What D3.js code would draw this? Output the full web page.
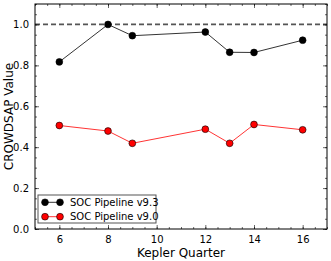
<!DOCTYPE html>
<html>
<head>
<meta charset="utf-8">
<script src="https://cdn.jsdelivr.net/npm/d3@7"></script>
<style>
  body { margin: 0; background: #fff; }
  text { font-family: "DejaVu Sans", sans-serif; }
</style>
</head>
<body>
<svg id="chart" width="331" height="261"></svg>
<script>
const quarters = [6, 8, 9, 12, 13, 14, 16]
const v93 = [0.817, 1.0, 0.945, 0.963, 0.864, 0.863, 0.923]
const v90 = [0.506, 0.479, 0.419, 0.488, 0.419, 0.511, 0.485]
const seriesNames = ['SOC Pipeline v9.3', 'SOC Pipeline v9.0']
const seriesColors = ['#000000', '#ff0000']
const xTicks = [6, 8, 10, 12, 14, 16]
const yTicks = [0.0, 0.2, 0.4, 0.6, 0.8, 1.0]

const margin = {top: 4, right: 4, bottom: 32, left: 35}
const width = 331, height = 261
const svg = d3.select('#chart')

const x = d3.scaleLinear().domain([5, 17]).range([margin.left, width - margin.right])
const y = d3.scaleLinear().domain([0, 1.1]).range([height - margin.bottom, margin.top])

const plot = svg.append('g')

// reference line at 1.0
plot.append('line')
    .attr('x1', x(5)).attr('x2', x(17))
    .attr('y1', y(1)).attr('y2', y(1))
    .attr('stroke', '#555').attr('stroke-width', 1.8)
    .attr('stroke-dasharray', '5,3')

const line = d3.line().x((d, i) => x(quarters[i])).y(d => y(d))

const series = [v93, v90]
series.forEach((vals, s) => {
  plot.append('path')
      .attr('d', line(vals))
      .attr('fill', 'none')
      .attr('stroke', seriesColors[s])
      .attr('stroke-width', 0.8)
  plot.selectAll(null).data(vals).enter().append('circle')
      .attr('cx', (d, i) => x(quarters[i]))
      .attr('cy', d => y(d))
      .attr('r', 3.4)
      .attr('fill', seriesColors[s])
      .attr('stroke', '#000').attr('stroke-width', 0.6)
})

// axes: ticks inward on all sides
const xMinor = d3.range(5, 17.01, 0.5)
const yMinor = d3.range(0, 1.101, 0.05)
const axisG = svg.append('g').attr('font-size', 10)

function addAxis(axis, transform) {
  const g = axisG.append('g').attr('transform', transform).call(axis)
  g.select('.domain').remove()
  g.selectAll('line').attr('stroke', '#000').attr('stroke-width', 0.6)
  g.selectAll('text').attr('font-family', '"DejaVu Sans", sans-serif').attr('font-size', 10).attr('fill', '#000')
  return g
}

const bottomY = height - margin.bottom
addAxis(d3.axisBottom(x).tickValues(xMinor).tickSize(-2).tickFormat(''), `translate(0,${bottomY})`)
addAxis(d3.axisTop(x).tickValues(xMinor).tickSize(-2).tickFormat(''), `translate(0,${margin.top})`)
addAxis(d3.axisBottom(x).tickValues(xTicks).tickSize(-4).tickPadding(7).tickFormat(d3.format('d')), `translate(0,${bottomY})`)
addAxis(d3.axisTop(x).tickValues(xTicks).tickSize(-4).tickFormat(''), `translate(0,${margin.top})`)

addAxis(d3.axisLeft(y).tickValues(yMinor).tickSize(-2).tickFormat(''), `translate(${margin.left},0)`)
addAxis(d3.axisRight(y).tickValues(yMinor).tickSize(-2).tickFormat(''), `translate(${width - margin.right},0)`)
addAxis(d3.axisLeft(y).tickValues(yTicks).tickSize(-4).tickPadding(6).tickFormat(d3.format('.1f')), `translate(${margin.left},0)`)
addAxis(d3.axisRight(y).tickValues(yTicks).tickSize(-4).tickFormat(''), `translate(${width - margin.right},0)`)

// frame
svg.append('rect')
    .attr('x', margin.left).attr('y', margin.top)
    .attr('width', width - margin.left - margin.right)
    .attr('height', height - margin.top - margin.bottom)
    .attr('fill', 'none').attr('stroke', '#000').attr('stroke-width', 1)

// axis labels
svg.append('text')
    .attr('x', (margin.left + width - margin.right) / 2)
    .attr('y', height - 4)
    .attr('text-anchor', 'middle')
    .attr('font-size', 12)
    .text('Kepler Quarter')
svg.append('text')
    .attr('transform', `translate(13,${(margin.top + bottomY) / 2}) rotate(-90)`)
    .attr('text-anchor', 'middle')
    .attr('font-size', 12)
    .text('CROWDSAP Value')

// legend
const legend = svg.append('g').attr('transform', `translate(${margin.left + 3},${bottomY - 34})`)
legend.append('rect')
    .attr('width', 118).attr('height', 28)
    .attr('fill', '#fff').attr('stroke', '#555').attr('stroke-width', 1)
seriesNames.forEach((name, s) => {
  const row = legend.append('g').attr('transform', `translate(0,${7.3 + s * 14.4})`)
  row.append('line').attr('x1', 7).attr('x2', 22).attr('y1', 0).attr('y2', 0)
      .attr('stroke', seriesColors[s]).attr('stroke-width', 0.8)
  row.selectAll('circle').data([7, 22]).enter().append('circle')
      .attr('cx', d => d).attr('cy', 0).attr('r', 3.4)
      .attr('fill', seriesColors[s]).attr('stroke', '#000').attr('stroke-width', 0.6)
  row.append('text').attr('x', 32).attr('y', 0).attr('dy', '0.35em')
      .attr('font-size', 10).text(name)
})
</script>
</body>
</html>
